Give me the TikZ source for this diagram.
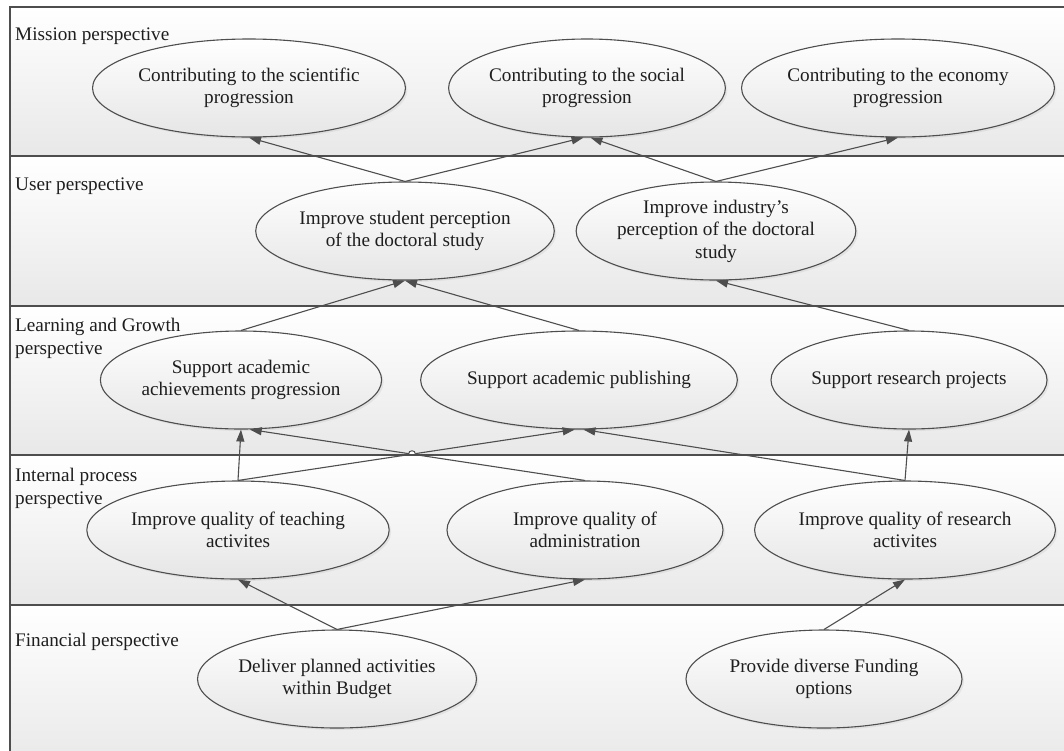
\documentclass[tikz,border=0pt]{standalone}
\usepackage{fontspec}
\setmainfont{Liberation Serif}
\usetikzlibrary{arrows.meta,shapes.geometric,intersections,calc,shadows}
\definecolor{linec}{HTML}{4E4E4E}
\definecolor{txtc}{HTML}{1E1E1E}
\begin{document}
\begin{tikzpicture}[x=1pt,y=-1pt,
  goal/.style={ellipse, draw=linec, line width=1.1pt, minimum width=276pt, minimum height=98pt,
    inner sep=0pt, align=center, top color=white, bottom color=black!10,
    font=\fontsize{19.2}{22.5}\selectfont, text=txtc,
    drop shadow={opacity=0.12, shadow xshift=2pt, shadow yshift=-2pt}},
  bandfill/.style={top color=white, bottom color=black!9, draw=none},
  bandline/.style={draw=linec, line width=1.3pt},
  plabel/.style={anchor=north west, align=left, inner sep=0pt, font=\fontsize{19.2}{22.5}\selectfont, text=txtc},
  conn/.style={draw=linec, line width=1.1pt, -{Triangle[length=12pt,width=8pt]}},
]
\useasboundingbox (0,0) rectangle (1064,750);
\begin{scope}
\clip (0,0) rectangle (1064,750);
\shade[bandfill] (10,7) rectangle (1070,156);
\shade[bandfill] (10,156) rectangle (1070,306);
\shade[bandfill] (10,306) rectangle (1070,455);
\shade[bandfill] (10,455) rectangle (1070,605);
\shade[bandfill] (10,605) rectangle (1070,770);
\draw[bandline] (1070,7) -- (10,7) -- (10,770);
\draw[bandline] (10,156) -- (1070,156);
\draw[bandline] (10,306) -- (1070,306);
\draw[bandline] (10,455) -- (1070,455);
\draw[bandline] (10,605) -- (1070,605);
\end{scope}

\node[plabel] (pm) at (15,28) {Mission perspective};
\node[plabel] (pu) at (15,178) {User perspective};
\node[plabel] (pl) at (15,318) {Learning and Growth\\perspective};
\node[plabel] (pi) at (15,468) {Internal process\\perspective};
\node[plabel] (pf) at (15,633) {Financial perspective};

\node[goal] (m1) at (249,88) {Contributing to the scientific\\progression};
\node[goal] (m2) at (587,88) {Contributing to the social\\progression};
\node[goal] (m3) at (898,88) {Contributing to the economy\\progression};
\node[goal] (u1) at (405,231) {Improve student perception\\of the doctoral study};
\node[goal] (u2) at (716,231) {Improve industry’s\\perception of the doctoral\\study};
\node[goal] (l1) at (241,380) {Support academic\\achievements progression};
\node[goal] (l2) at (579,380) {Support academic publishing};
\node[goal] (l3) at (909,380) {Support research projects};
\node[goal] (i1) at (238,530) {Improve quality of teaching\\activites};
\node[goal] (i2) at (585,530) {Improve quality of\\administration};
\node[goal] (i3) at (905,530) {Improve quality of research\\activites};
\node[goal] (f1) at (337,679) {Deliver planned activities\\within Budget};
\node[goal] (f2) at (824,679) {Provide diverse Funding\\options};

\draw[conn] (u1.north) -- (m1.south);
\draw[conn] (u1.north) -- (m2.266);
\draw[conn] (u2.north) -- (m2.274);
\draw[conn] (u2.north) -- (m3.south);
\draw[conn] (l1.north) -- (u1.south);
\draw[conn] (l2.north) -- (u1.south);
\draw[conn] (l3.north) -- (u2.south);
\draw[conn] (i1.north) -- (l1.south);
\draw[conn, name path=pa] (i1.north) -- (l2.265);
\draw[conn, name path=pb] (i2.north) -- (l1.280);
\draw[conn] (i3.north) -- (l2.275);
\draw[conn] (i3.north) -- (l3.south);
\draw[conn] (f1.north) -- (i1.south);
\draw[conn] (f1.north) -- (i2.south);
\draw[conn] (f2.north) -- (i3.south);
\path[name intersections={of=pa and pb, by=X}];
\draw[linec, line width=1pt, fill=white] ([xshift=-3.5pt]X) .. controls ([xshift=-3.5pt,yshift=4.5pt]X) and ([xshift=3.5pt,yshift=4.5pt]X) .. ([xshift=3.5pt]X);
\end{tikzpicture}
\end{document}
